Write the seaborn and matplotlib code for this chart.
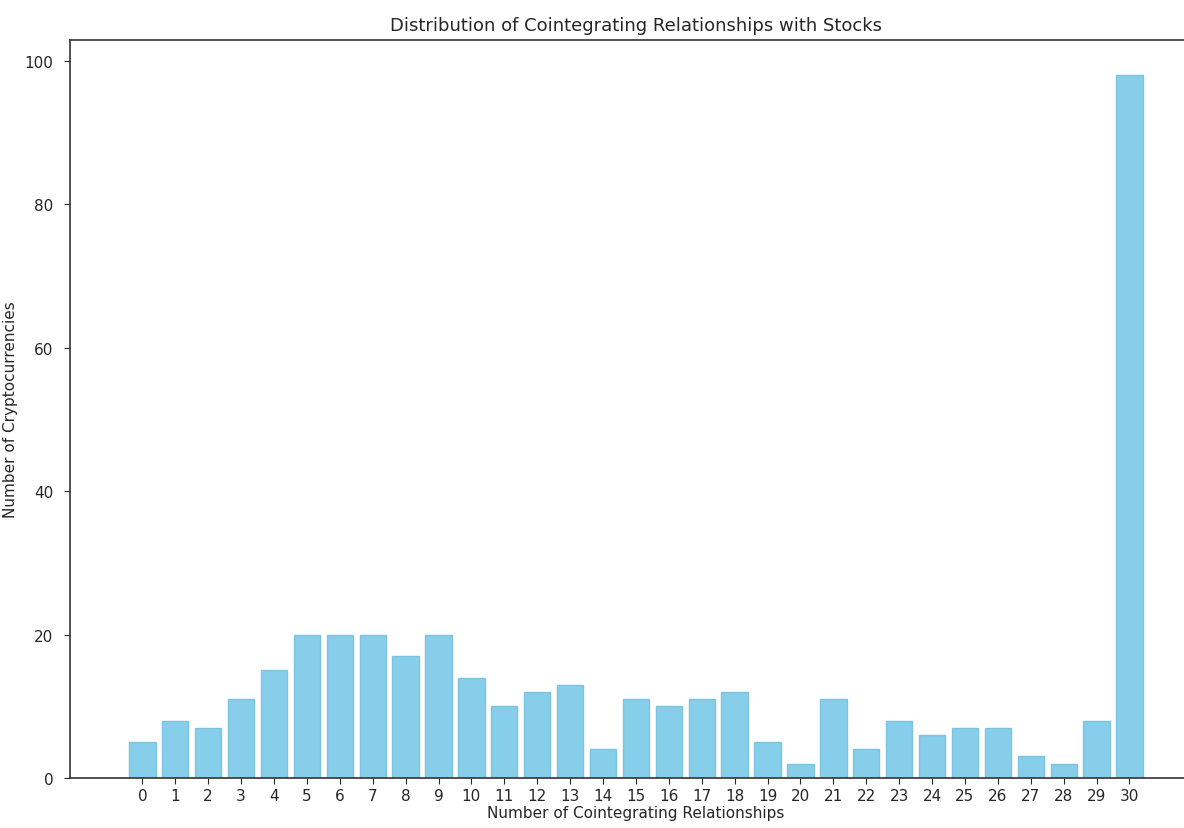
import pandas as pd
import numpy as np
import seaborn as sns
import matplotlib.pyplot as plt

# Counts per number of cointegrating relationships
relationships = list(range(31))
num_cryptos = [5, 8, 7, 11, 15, 20, 20, 20, 17, 20, 14, 10, 12, 13, 4,
               11, 10, 11, 12, 5, 2, 11, 4, 8, 6, 7, 7, 3, 2, 8, 98]

df = pd.DataFrame({'relationships': relationships, 'count': num_cryptos})

sns.set_style("white")
plt.rcParams['font.family'] = ['DejaVu Sans']

fig = plt.figure(figsize=(11.84, 8.29), dpi=100)
ax = fig.add_axes([0.0591, 0.0603, 0.956, 0.8902])

sns.barplot(data=df, x='relationships', y='count', color='skyblue',
            saturation=1, width=0.8, edgecolor='#7cc3e0', linewidth=1, ax=ax)

ax.set_xlim(-2.2, 32.2)
ax.set_ylim(0, 102.9)
ax.set_yticks([0, 20, 40, 60, 80, 100])
ax.tick_params(axis='both', labelsize=11, length=4, direction='out',
               bottom=True, left=True)
ax.tick_params(axis='y', pad=8)
for s in ax.spines.values():
    s.set_color('#333333')
    s.set_linewidth(1.2)

ax.set_title("Distribution of Cointegrating Relationships with Stocks", fontsize=13, pad=7)
ax.set_xlabel("Number of Cointegrating Relationships", fontsize=11)
ax.set_ylabel("Number of Cryptocurrencies", fontsize=11)
ax.yaxis.set_label_coords(-0.046, 0.5)
ax.xaxis.set_label_coords(0.5, -0.037)

fig.savefig("out.png", dpi=100)
